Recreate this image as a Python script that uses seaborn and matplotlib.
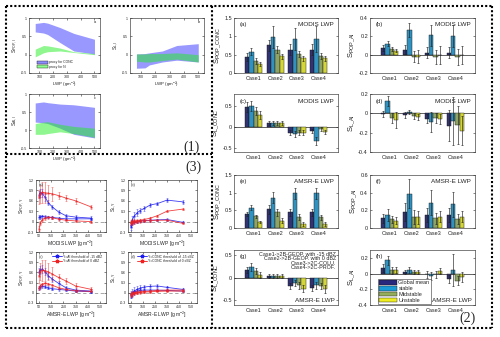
import numpy as np
import pandas as pd
import matplotlib
matplotlib.use("Agg")
import matplotlib.pyplot as plt
from matplotlib.lines import Line2D
from matplotlib.patches import Patch
from matplotlib.ticker import FuncFormatter
import seaborn as sns

sns.set_theme(style="ticks")
plt.rcParams['font.family'] = ['Liberation Sans', 'DejaVu Sans']
plt.rcParams['mathtext.default'] = 'regular'
plt.rcParams['axes.linewidth'] = 0.5

# ---------------- data: (1) sensitivity envelopes ----------------
band_lwp = [70, 130, 160, 250, 350, 500]
pop_conc_hi = [0.85, 0.88, 0.86, 0.74, 0.58, 0.42]
pop_conc_lo = [0.62, 0.59, 0.55, 0.33, 0.10, 0.02]
pop_n_hi = [0.15, 0.25, 0.24, 0.18, 0.08, 0.03]
pop_n_lo = [-0.06, 0.05, 0.08, 0.10, 0.06, 0.00]
l_conc_hi = [0.02, 0.03, 0.05, 0.10, 0.25, 0.30]
l_conc_lo = [-0.37, -0.36, -0.28, -0.20, -0.15, -0.20]
l_n_hi = [0.02, 0.02, 0.03, 0.03, 0.05, 0.00]
l_n_lo = [-0.18, -0.20, -0.20, -0.16, -0.12, -0.20]
ai_conc_hi = [0.75, 0.78, 0.76, 0.72, 0.70, 0.63]
ai_conc_lo = [0.22, 0.20, 0.18, 0.05, -0.12, -0.22]
ai_n_hi = [0.18, 0.22, 0.23, 0.16, 0.10, 0.05]
ai_n_lo = [-0.12, -0.12, -0.10, -0.05, -0.10, -0.20]

# ---------------- data: (2) bar charts ----------------
cases = ['Case1', 'Case2', 'Case3', 'Case4']
regimes = ['Global mean', 'stable', 'Midstable', 'Unstable']
regime_colors = ['#27287e', '#1a9bd7', '#93ad5a', '#eeee22']

modis_pop_conc = [[0.44, 0.58, 0.33, 0.24], [0.76, 0.98, 0.64, 0.46],
                  [0.63, 0.92, 0.52, 0.40], [0.63, 0.92, 0.46, 0.40]]
modis_pop_conc_err = [[0.10, 0.10, 0.08, 0.06], [0.15, 0.30, 0.10, 0.07],
                      [0.15, 0.30, 0.08, 0.06], [0.15, 0.35, 0.08, 0.06]]
modis_pop_ai = [[0.073, 0.12, 0.06, 0.044], [0.055, 0.27, -0.02, -0.02],
                [0.02, 0.21, -0.025, 0.0], [0.02, 0.20, -0.025, 0.0]]
modis_pop_ai_err = [[0.03, 0.03, 0.02, 0.02], [0.05, 0.08, 0.06, 0.07],
                    [0.06, 0.11, 0.08, 0.10], [0.06, 0.12, 0.09, 0.10]]
modis_l_conc = [[0.48, 0.50, 0.39, 0.30], [0.09, 0.09, 0.09, 0.09],
                [-0.13, -0.17, -0.13, -0.13], [-0.09, -0.33, -0.04, -0.11]]
modis_l_conc_err = [[0.12, 0.12, 0.10, 0.10], [0.05, 0.05, 0.05, 0.05],
                    [0.05, 0.07, 0.05, 0.05], [0.05, 0.10, 0.05, 0.05]]
modis_l_ai = [[-0.01, 0.13, -0.05, -0.07], [-0.02, 0.015, -0.03, -0.035],
              [-0.055, -0.09, -0.045, -0.06], [-0.13, -0.08, -0.12, -0.18]]
modis_l_ai_err = [[0.03, 0.05, 0.05, 0.08], [0.03, 0.02, 0.03, 0.03],
                  [0.05, 0.10, 0.05, 0.05], [0.16, 0.25, 0.20, 0.15]]
amsr_pop_conc = [[0.39, 0.58, 0.33, 0.17], [0.53, 0.86, 0.44, 0.21],
                 [0.44, 0.98, 0.31, 0.11], [0.44, 0.98, 0.30, 0.11]]
amsr_pop_conc_err = [[0.05, 0.07, 0.04, 0.04], [0.12, 0.15, 0.10, 0.07],
                     [0.10, 0.15, 0.08, 0.06], [0.10, 0.15, 0.08, 0.06]]
amsr_pop_ai = [[0.11, 0.15, 0.10, 0.08], [0.18, 0.39, 0.12, 0.12],
               [0.15, 0.285, 0.11, 0.13], [0.15, 0.27, 0.10, 0.13]]
amsr_pop_ai_err = [[0.05, 0.07, 0.04, 0.04], [0.10, 0.16, 0.08, 0.07],
                   [0.08, 0.14, 0.06, 0.06], [0.08, 0.14, 0.06, 0.06]]
amsr_l_conc = [[0.16, 0.23, 0.14, 0.05], [0.03, 0.03, 0.03, 0.03],
               [-0.18, -0.12, -0.17, -0.24], [-0.23, -0.17, -0.18, -0.25]]
amsr_l_conc_err = [[0.07, 0.08, 0.06, 0.06], [0.04, 0.04, 0.04, 0.04],
                   [0.07, 0.07, 0.07, 0.08], [0.07, 0.08, 0.07, 0.08]]
amsr_l_ai = [[0.075, 0.17, 0.04, 0.05], [0.02, 0.05, 0.02, 0.02],
             [-0.01, -0.03, -0.01, 0.035], [-0.065, 0.045, -0.09, -0.045]]
amsr_l_ai_err = [[0.05, 0.06, 0.04, 0.04], [0.03, 0.04, 0.03, 0.03],
                 [0.04, 0.05, 0.04, 0.04], [0.05, 0.20, 0.06, 0.06]]

# ---------------- data: (3) binned sensitivities ----------------
bin_lwp = [50, 60, 75, 100, 125, 160, 210, 270, 350, 480]
modis_pop_b1 = [0.78, 0.83, 0.82, 0.70, 0.55, 0.42, 0.28, 0.17, 0.13, 0.10]
modis_pop_b2 = [0.13, 0.14, 0.15, 0.14, 0.13, 0.12, 0.10, 0.08, 0.08, 0.08]
modis_pop_r1 = [0.72, 0.80, 0.85, 0.83, 0.82, 0.80, 0.75, 0.68, 0.60, 0.42]
modis_pop_r2 = [-0.20, -0.05, 0.05, 0.10, 0.12, 0.11, 0.07, 0.04, 0.02, 0.00]
modis_l_b1 = [-0.15, 0.05, 0.15, 0.25, 0.32, 0.38, 0.48, 0.52, 0.62, 0.57]
modis_l_b2 = [-0.10, -0.05, -0.02, 0.00, 0.02, 0.03, 0.04, 0.05, 0.06, -0.02]
modis_l_r1 = [0.00, 0.01, 0.02, 0.03, 0.04, 0.06, 0.10, 0.17, 0.30, 0.36]
modis_l_r2 = [-0.05, -0.03, -0.01, 0.00, 0.01, 0.02, 0.03, 0.04, 0.04, -0.05]
amsr_pop_b1 = [0.62, 0.68, 0.70, 0.62, 0.50, 0.40, 0.28, 0.15, 0.08, 0.05]
amsr_pop_b2 = [0.15, 0.18, 0.20, 0.18, 0.15, 0.12, 0.10, 0.08, 0.05, 0.03]
amsr_pop_r1 = [0.50, 0.62, 0.66, 0.65, 0.62, 0.55, 0.45, 0.35, 0.20, 0.10]
amsr_pop_r2 = [0.15, 0.20, 0.25, 0.28, 0.26, 0.22, 0.15, 0.10, 0.06, 0.04]
amsr_l_b1 = [-0.05, 0.00, 0.05, 0.10, 0.14, 0.17, 0.19, 0.20, 0.16, 0.10]
amsr_l_b2 = [-0.08, -0.03, 0.02, 0.05, 0.07, 0.08, 0.08, 0.08, 0.07, 0.05]
amsr_l_r1 = [-0.05, -0.02, 0.00, 0.02, 0.03, 0.04, 0.05, 0.07, 0.08, 0.08]
amsr_l_r2 = [-0.06, -0.04, -0.02, 0.00, 0.01, 0.02, 0.03, 0.04, 0.05, 0.05]
err_big = [0.20, 0.25, 0.30, 0.30, 0.25, 0.20, 0.10, 0.08, 0.08, 0.06]
err_mid = [0.10, 0.12, 0.12, 0.10, 0.08, 0.07, 0.06, 0.05, 0.05, 0.05]
err_small = [0.06, 0.06, 0.05, 0.05, 0.04, 0.04, 0.04, 0.03, 0.03, 0.03]

W, H = 500, 337
fig = plt.figure(figsize=(W / 100, H / 100), dpi=100)
fig.patch.set_facecolor('white')


def add_ax(x0, y0, x1, y1):
    """Axes from a pixel box measured from the top-left corner."""
    return fig.add_axes([x0 / W, 1 - y1 / H, (x1 - x0) / W, (y1 - y0) / H])


fmt = FuncFormatter(lambda v, p: '%g' % round(v, 3))


def style(ax, fs):
    ax.tick_params(direction='in', length=1.5, width=0.4, labelsize=fs, pad=1.5,
                   top=True, right=True)
    for s in ax.spines.values():
        s.set_linewidth(0.45)
        s.set_color('#333333')
    ax.yaxis.set_major_formatter(fmt)


# ---------------- (1) envelopes ----------------
def envelope(ax, c_hi, c_lo, n_hi, n_lo, ylab, tag):
    ax.fill_between(band_lwp, c_lo, c_hi, color='#3333ff', alpha=0.5, lw=0)
    ax.fill_between(band_lwp, n_lo, n_hi, color='#22ee22', alpha=0.5, lw=0)
    ax.set_xlim(25, 540)
    ax.set_ylim(-0.5, 1.0)
    ax.set_xticks([100, 200, 300, 400, 500])
    ax.set_yticks([-0.5, 0, 0.5, 1])
    style(ax, 2.6)
    ax.set_xlabel('LWP (gm$^{-2}$)', fontsize=3.2, labelpad=0.5)
    ax.set_ylabel(ylab, fontsize=3.6, labelpad=0.5)
    ax.text(0.93, 0.93, tag, transform=ax.transAxes, fontsize=2.8, ha='center', va='center')


ax1a = add_ax(29, 18, 100, 73)
envelope(ax1a, pop_conc_hi, pop_conc_lo, pop_n_hi, pop_n_lo, 'S$_{POP,l}$', 'a')
ax1a.legend(handles=[Patch(facecolor='#8c8cff', edgecolor='k', lw=0.3, label='proxy for CONC'),
                     Patch(facecolor='#8cff8c', edgecolor='k', lw=0.3, label='proxy for N')],
            loc='lower left', bbox_to_anchor=(0.08, 0.04), fontsize=2.4, frameon=False,
            handlelength=3.5, handleheight=0.9, labelspacing=0.15, borderpad=0.1,
            handletextpad=0.3)
ax1b = add_ax(130, 18, 204, 73)
envelope(ax1b, l_conc_hi, l_conc_lo, l_n_hi, l_n_lo, 'S$_{L,l}$', 'b')
ax1c = add_ax(29, 94, 100, 148)
envelope(ax1c, ai_conc_hi, ai_conc_lo, ai_n_hi, ai_n_lo, 'S$_{AI,l}$', 'c')

# ---------------- (2) bars ----------------
def bars(ax, vals, errs, ylim, yticks, ylab, tag, src, src_pos='top'):
    df = pd.DataFrame([(c, r, vals[i][j]) for i, c in enumerate(cases)
                       for j, r in enumerate(regimes)], columns=['case', 'regime', 'value'])
    sns.barplot(data=df, x='case', y='value', hue='regime', hue_order=regimes,
                palette=regime_colors, errorbar=None, width=0.8, edgecolor='#111111',
                linewidth=0.3, ax=ax, legend=False)
    bar_groups = list(ax.containers)
    for j, cont in enumerate(bar_groups):
        xs = [b.get_x() + b.get_width() / 2 for b in cont]
        ax.errorbar(xs, [vals[i][j] for i in range(4)], yerr=[errs[i][j] for i in range(4)],
                    fmt='none', ecolor='#222222', elinewidth=0.45, capsize=0.8,
                    capthick=0.45)
    if ylim[0] < 0:
        ax.axhline(0, color='#222222', lw=0.5, zorder=0.5)
    ax.set_xlim(-0.9, 3.9)
    ax.set_ylim(*ylim)
    ax.set_yticks(yticks)
    ax.set_xlabel('')
    style(ax, 4.0)
    ax.tick_params(axis='x', length=0, pad=2.5)
    ax.set_ylabel(ylab, fontsize=5.5, labelpad=1)
    ax.text(0.05, 0.92, tag, transform=ax.transAxes, fontsize=4.3, va='top')
    if src_pos == 'top':
        ax.text(0.96, 0.92, src, transform=ax.transAxes, fontsize=4.6, va='top', ha='right')
    else:
        ax.text(0.97, 0.03, src, transform=ax.transAxes, fontsize=4.6, va='bottom', ha='right')


bars(add_ax(234, 18, 338, 73), modis_pop_conc, modis_pop_conc_err, (0, 1.5),
     [0, 0.5, 1, 1.5], r'S$_{POP\_CONC}$', '(a)', 'MODIS LWP')
bars(add_ax(370, 18, 475, 73), modis_pop_ai, modis_pop_ai_err, (-0.2, 0.4),
     [-0.2, 0, 0.2, 0.4], r'S$_{POP\_AI}$', '(b)', 'MODIS LWP')
bars(add_ax(234, 94, 338, 152), modis_l_conc, modis_l_conc_err, (-0.6, 0.8),
     [-0.5, 0, 0.5], r'S$_{L\_CONC}$', '(c)', 'MODIS LWP')
bars(add_ax(370, 94, 475, 152), modis_l_ai, modis_l_ai_err, (-0.4, 0.2),
     [-0.4, -0.2, 0, 0.2], r'S$_{L\_AI}$', '(d)', 'MODIS LWP')
bars(add_ax(234, 175, 338, 228), amsr_pop_conc, amsr_pop_conc_err, (0, 1.5),
     [0, 0.5, 1, 1.5], r'S$_{POP\_CONC}$', '(e)', 'AMSR-E LWP')
bars(add_ax(370, 175, 475, 228), amsr_pop_ai, amsr_pop_ai_err, (0, 0.6),
     [0, 0.2, 0.4, 0.6], r'S$_{POP\_AI}$', '(f)', 'AMSR-E LWP')
axg = add_ax(234, 250, 338, 305)
bars(axg, amsr_l_conc, amsr_l_conc_err, (-0.6, 0.6), [-0.5, 0, 0.5],
     r'S$_{L\_CONC}$', '(g)', 'AMSR-E LWP', src_pos='bottom')
axg.text(0.98, 0.97, 'Case1->2B-GEOP. with -15 dBZ\nCase2->2B-GEOP. with 0 dBZ\n'
         'Case3->2C-COLU.\nCase4->2C-PROF.', transform=axg.transAxes, fontsize=3.9,
         ha='right', va='top', linespacing=0.9)
axh = add_ax(370, 250, 475, 305)
bars(axh, amsr_l_ai, amsr_l_ai_err, (-0.4, 0.3), [-0.4, -0.2, 0, 0.2],
     r'S$_{L\_AI}$', '(h)', 'AMSR-E LWP', src_pos='bottom')
axh.legend(handles=[Patch(facecolor=c, edgecolor='k', lw=0.3, label=r)
                    for c, r in zip(regime_colors, regimes)],
           loc='lower left', bbox_to_anchor=(0.07, 0.01), fontsize=4.0, frameon=True,
           fancybox=False, edgecolor='#333333', framealpha=1, handlelength=3.2,
           handleheight=0.9, labelspacing=0.1, borderpad=0.2, handletextpad=0.3,
           borderaxespad=0.1).get_frame().set_linewidth(0.4)

# ---------------- (3) binned lines ----------------
def lines(ax, b1, b2, r1, r2, ylab, xlab, tag, eb1, er1):
    for y, e, c in [(b1, eb1, '#1c1cf0'), (b2, err_small, '#1c1cf0'),
                    (r1, er1, '#f02020'), (r2, err_small, '#f02020')]:
        sns.lineplot(x=bin_lwp, y=y, ax=ax, color=c, lw=0.6, marker='*',
                     markersize=2.6, markeredgewidth=0, alpha=0.85)
        ax.errorbar(bin_lwp, y, yerr=e, fmt='none', ecolor=c, elinewidth=0.5,
                    capsize=0.8, capthick=0.4, alpha=0.6)
    ax.axhline(0, color='#999999', lw=0.6, ls=(0, (4, 3)), zorder=0.5)
    ax.set_xlim(25, 600)
    ax.set_ylim(-0.3, 1.2)
    ax.set_xticks([50, 150, 250, 350, 450, 550])
    ax.set_yticks([-0.3, 0, 0.3, 0.6, 0.9, 1.2])
    style(ax, 2.6)
    ax.set_xlabel(xlab, fontsize=3.6, labelpad=0.8)
    ax.set_ylabel(ylab, fontsize=3.6, labelpad=0.5)
    ax.text(0.04, 0.95, tag, transform=ax.transAxes, fontsize=2.8, va='top')


lines(add_ax(36, 180, 106, 232), modis_pop_b1, modis_pop_b2, modis_pop_r1, modis_pop_r2,
      'S$_{POP,Y}$', 'MODIS LWP [g m$^{-2}$]', '(a)', err_mid, err_big)
lines(add_ax(128, 180, 197, 232), modis_l_b1, modis_l_b2, modis_l_r1, modis_l_r2,
      'S$_{L,Y}$', 'MODIS LWP [g m$^{-2}$]', '(b)', err_mid, err_small)
axc3 = add_ax(36, 252, 106, 303)
lines(axc3, amsr_pop_b1, amsr_pop_b2, amsr_pop_r1, amsr_pop_r2,
      'S$_{POP,Y}$', 'AMSR-E LWP [g m$^{-2}$]', '(c)', err_mid, err_big)
axd3 = add_ax(128, 252, 197, 303)
lines(axd3, amsr_l_b1, amsr_l_b2, amsr_l_r1, amsr_l_r2,
      'S$_{L,Y}$', 'AMSR-E LWP [g m$^{-2}$]', '(d)', err_mid, err_small)
for ax, key in [(axc3, 'AI'), (axd3, 'CONC')]:
    ax.legend(handles=[Line2D([], [], color='#1c1cf0', lw=0.6, marker='*', ms=2.6,
                              label='Y=%s threshold of -15 dBZ' % key),
                       Line2D([], [], color='#f02020', lw=0.6, marker='*', ms=2.6,
                              label='Y=%s threshold of 0 dBZ' % key)],
              loc='upper right', bbox_to_anchor=(0.98, 0.99), fontsize=2.4, frameon=False,
              handlelength=3, labelspacing=0.1, borderpad=0.1, handletextpad=0.4)

# ---------------- panel group labels and dotted frames ----------------
for txt, x, y in [('(1)', 192, 147), ('(3)', 193, 167), ('(2)', 468, 318)]:
    fig.text(x / W, 1 - y / H, txt, fontsize=10, family='Liberation Serif',
             ha='center', va='center')

dot = dict(color='black', lw=1.5, ls=(0, (1, 1)), transform=fig.transFigure)
for (x0, y0), (x1, y1) in [((6, 6), (492, 6)), ((6, 328), (492, 328)),
                           ((6, 6), (6, 328)), ((492, 6), (492, 328)),
                           ((212, 6), (212, 328)), ((6, 154), (212, 154))]:
    fig.add_artist(Line2D([x0 / W, x1 / W], [1 - y0 / H, 1 - y1 / H], **dot))

fig.savefig('out.png', dpi=100)
